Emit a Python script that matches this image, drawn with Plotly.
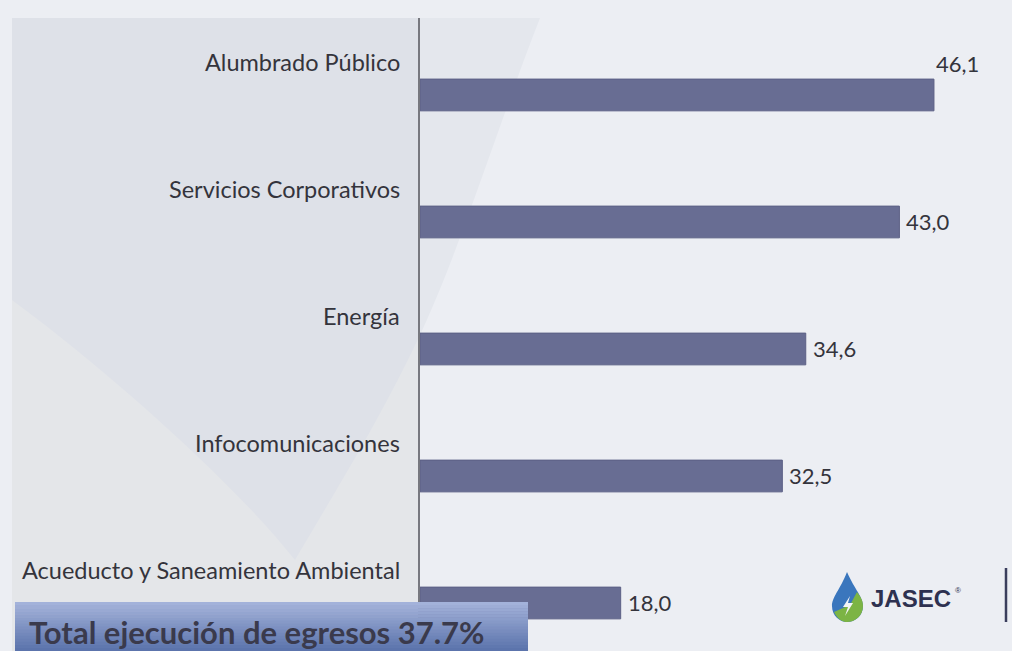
import plotly.graph_objects as go

# ---- data ----
categories = ["Alumbrado Público", "Servicios Corporativos", "Energía",
              "Infocomunicaciones", "Acueducto y Saneamiento Ambiental"]
values = [46.1, 43.0, 34.6, 32.5, 18.0]
value_labels = ["46,1", "43,0", "34,6", "32,5", "18,0"]
total_text = "Total ejecución de egresos 37.7%"
logo_text = "JASEC"

W, H = 1012, 651
def px(x):
    return x / W
def py(y):
    return 1 - y / H
def P(x, y):
    return f"{px(x):.5f},{py(y):.5f}"

BAR = "#686d93"
TXT = "#34343c"

fig = go.Figure()
fig.add_trace(go.Bar(
    x=values, y=categories, orientation="h",
    width=0.25,
    marker=dict(color=BAR, line=dict(color="#5c6085", width=1)),
    hoverinfo="skip", showlegend=False,
))

shapes = []
# left panel
shapes.append(dict(type="rect", xref="paper", yref="paper",
                   x0=px(12), x1=px(420), y0=py(651), y1=py(18),
                   fillcolor="#e4e6e9", line=dict(width=0), layer="below"))
# decorative darker shield shape (left of axis)
path = (f"M {P(12,18)} L {P(420,18)} L {P(420,335)} "
        f"C {P(380,420)} {P(330,500)} {P(295,560)} "
        f"C {P(240,490)} {P(120,380)} {P(12,300)} Z")
shapes.append(dict(type="path", xref="paper", yref="paper", path=path,
                   fillcolor="#dee1e8", line=dict(width=0), layer="below"))
# sliver right of axis
path2 = (f"M {P(420,18)} L {P(540,18)} C {P(500,120)} {P(460,250)} {P(420,335)} Z")
shapes.append(dict(type="path", xref="paper", yref="paper", path=path2,
                   fillcolor="#e4e7ed", line=dict(width=0), layer="below"))

# total box gradient (strips)
top_c = (163, 178, 218)
bot_c = (92, 116, 172)
n = 16
y0b, y1b = 602, 651
for i in range(n):
    t = i / (n - 1)
    c = tuple(int(top_c[k] + (bot_c[k] - top_c[k]) * t) for k in range(3))
    ya = y0b + (y1b - y0b) * i / n
    yb = y0b + (y1b - y0b) * (i + 1) / n
    shapes.append(dict(type="rect", xref="paper", yref="paper",
                       x0=px(15), x1=px(528), y0=py(yb + 0.5), y1=py(ya),
                       fillcolor="rgb(%d,%d,%d)" % c, line=dict(width=0),
                       layer="above"))

# logo drop (blue) and green lower part
drop = (f"M {P(847,572)} C {P(840,590)} {P(832,597)} {P(832,606)} "
        f"C {P(832,616)} {P(840,622)} {P(847,622)} "
        f"C {P(855,622)} {P(863,616)} {P(863,606)} "
        f"C {P(863,597)} {P(855,590)} {P(847,572)} Z")
shapes.append(dict(type="path", xref="paper", yref="paper", path=drop,
                   fillcolor="#3a76bd", line=dict(width=0), layer="above"))
green = (f"M {P(834,612)} C {P(838,620)} {P(843,622)} {P(847,622)} "
         f"C {P(855,622)} {P(863,616)} {P(863,606)} "
         f"C {P(863,600)} {P(860,596)} {P(857,592)} "
         f"L {P(850,605)} Z")
shapes.append(dict(type="path", xref="paper", yref="paper", path=green,
                   fillcolor="#7cb444", line=dict(width=0), layer="above"))
shapes.append(dict(type="path", xref="paper", yref="paper",
                   path=f"M {P(850,596)} L {P(843,607)} L {P(848,607)} L {P(845,616)} L {P(853,603)} L {P(848,603)} Z",
                   fillcolor="#f2f4f6", line=dict(width=0), layer="above"))
# vertical separator at right
shapes.append(dict(type="line", xref="paper", yref="paper",
                   x0=px(1006), x1=px(1006), y0=py(568), y1=py(622),
                   line=dict(color="#3b3e5c", width=2.5), layer="above"))

annotations = []
# category labels above each bar, right-aligned to axis
for cat in categories:
    annotations.append(dict(x=0, y=cat, xref="x", yref="y", text=cat,
                            showarrow=False, xanchor="right", yanchor="middle",
                            xshift=-18, yshift=33,
                            font=dict(family="Lato", size=23.5, color=TXT)))
# value labels
for i, (v, lab, cat) in enumerate(zip(values, value_labels, categories)):
    above = i == 0
    annotations.append(dict(x=v, y=cat, xref="x", yref="y", text=lab,
                            showarrow=False, xanchor="left", yanchor="middle",
                            xshift=0 if above else 5, yshift=31 if above else 0,
                            font=dict(family="Lato", size=22, color=TXT)))
# total text
annotations.append(dict(x=px(27), y=py(632), xref="paper", yref="paper",
                        text="<b>" + total_text + "</b>", showarrow=False,
                        xanchor="left", yanchor="middle",
                        font=dict(family="Lato", size=31, color="#3a3a4c")))
# logo text
annotations.append(dict(x=px(869), y=py(598), xref="paper", yref="paper",
                        text="<b>" + logo_text + "</b>", showarrow=False,
                        xanchor="left", yanchor="middle",
                        font=dict(family="Liberation Sans", size=24, color="#2e3150")))
annotations.append(dict(x=px(953), y=py(590), xref="paper", yref="paper",
                        text="®", showarrow=False,
                        xanchor="left", yanchor="middle",
                        font=dict(family="Liberation Sans", size=8, color="#2e3150")))

fig.update_layout(
    width=W, height=H,
    margin=dict(l=0, r=0, t=0, b=0),
    paper_bgcolor="#eceef3",
    plot_bgcolor="rgba(0,0,0,0)",
    shapes=shapes,
    annotations=annotations,
    bargap=0.75,
    xaxis=dict(domain=[px(420), 1], range=[0, 53.1], visible=False,
               showgrid=False, zeroline=False),
    yaxis=dict(domain=[0, py(18)], type="category",
               categoryorder="array", categoryarray=categories,
               range=[4.378, -0.606], showticklabels=False, ticks="",
               showgrid=False, zeroline=False,
               showline=True, linecolor="#77787f", linewidth=1.5),
    font=dict(family="Lato"),
)

fig.write_html("out.html", config={"displayModeBar": False},
               post_script="document.body.style.margin='0';document.body.style.overflow='hidden';")
